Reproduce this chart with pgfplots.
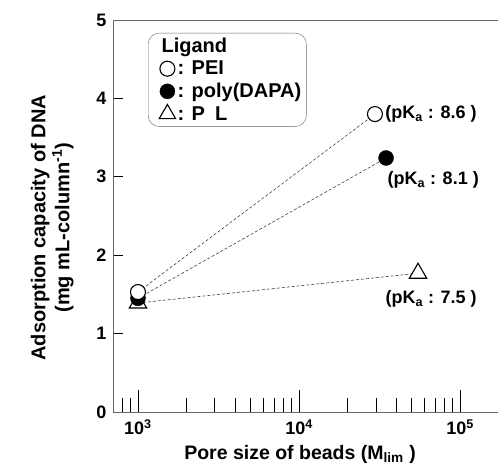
\documentclass[border=0pt]{standalone}
\usepackage{fontspec}
\setmainfont{Liberation Sans}
\usepackage{pgfplots}
\pgfplotsset{compat=1.18}
\begin{document}
\begin{tikzpicture}[x=1bp,y=1bp]
\path[use as bounding box] (0,0) rectangle (498,470);
\begin{axis}[
  at={(113bp,58bp)}, anchor=south west,
  scale only axis, width=400bp, height=392bp,
  xmode=log, xmin=700, xmax=213000, ymin=0, ymax=5,
  tick pos=left, tick align=inside,
  xtick={1000,10000,100000},
  xticklabels={10\textsuperscript{3},10\textsuperscript{4},10\textsuperscript{5}},
  minor xtick={800,900,2000,3000,4000,5000,6000,7000,8000,9000,20000,30000,40000,50000,60000,70000,80000,90000},
  ytick={0,1,2,3,4,5},
  x tick style={/pgfplots/major tick length=22bp,/pgfplots/minor tick length=14bp},
  y tick style={/pgfplots/major tick length=10bp},
  /pgf/number format/assume math mode=true,
  ticklabel style={font=\fontsize{18bp}{20bp}\selectfont\bfseries},
  xticklabel style={yshift=-4bp},
  yticklabel style={xshift=-3bp},
  axis line style={black!60, line width=0.9bp},
  tick style={black, line width=0.8bp},
  xlabel={Pore size of beads (M\textsubscript{lim} )},
  xlabel style={at={(axis description cs:0.4675,0)}, anchor=north, yshift=-30bp,
    font=\fontsize{19.5bp}{21bp}\selectfont\bfseries},
  ylabel={Adsorption capacity of DNA\\(mg mL-column\textsuperscript{-1})},
  ylabel style={align=center, font=\fontsize{20bp}{24bp}\selectfont\bfseries,
    at={(ticklabel cs:0.47)}, yshift=16bp},
  legend style={at={(axis description cs:0.0875,0.967)}, anchor=north west,
    draw=black!60, rounded corners=11bp, font=\fontsize{20bp}{22bp}\selectfont\bfseries,
    inner xsep=3bp, inner ysep=3bp, row sep=3bp},
  legend cell align=left,
  legend image code/.code={\path (-16bp,0bp) (8bp,0bp); \draw[#1] plot coordinates {(0bp,0bp)};},
  clip=false,
]
% dashed connecting lines
\addplot[forget plot, densely dashed, black!75, line width=0.6bp] coordinates {(1000,1.53) (29600,3.80)};
\addplot[forget plot, densely dashed, black!75, line width=0.6bp] coordinates {(1000,1.45) (34700,3.24)};
\addplot[forget plot, densely dashed, black!75, line width=0.6bp] coordinates {(1000,1.39) (54800,1.77)};
% markers: P L, poly(DAPA), PEI
\addplot[forget plot, only marks, mark=triangle*, mark size=10bp, mark options={fill=white, draw=black, line width=1.1bp}] coordinates {(1000,1.39) (54800,1.77)};
\addplot[forget plot, only marks, mark=*, mark size=7.5bp, mark options={fill=black, draw=black}] coordinates {(1000,1.45) (34700,3.24)};
\addplot[forget plot, only marks, mark=*, mark size=7.5bp, mark options={fill=white, draw=black, line width=1.1bp}] coordinates {(1000,1.53) (29600,3.80)};

\addlegendimage{empty legend}
\addlegendentry{\hspace*{-16bp}Ligand}
\addlegendimage{only marks, mark=*, mark size=7.5bp, mark options={fill=white, draw=black, line width=1.1bp}}
\addlegendentry{: PEI}
\addlegendimage{only marks, mark=*, mark size=7.5bp, mark options={fill=black, draw=black}}
\addlegendentry{: poly(DAPA)}
\addlegendimage{only marks, mark=triangle*, mark size=9.5bp, mark options={fill=white, draw=black, line width=1.1bp}}
\addlegendentry{: P\,\,\,L}

\node[anchor=west, font=\fontsize{18bp}{20bp}\selectfont\bfseries, xshift=7bp] at (axis cs:29600,3.80) {(pK\textsubscript{a} : 8.6 )};
\node[anchor=north west, font=\fontsize{18bp}{20bp}\selectfont\bfseries, yshift=-10bp, xshift=-2bp] at (axis cs:34700,3.24) {(pK\textsubscript{a} : 8.1 )};
\node[anchor=north west, font=\fontsize{18bp}{20bp}\selectfont\bfseries, yshift=-14bp, xshift=-36bp] at (axis cs:54800,1.77) {(pK\textsubscript{a} : 7.5 )};
\end{axis}
\end{tikzpicture}
\end{document}
